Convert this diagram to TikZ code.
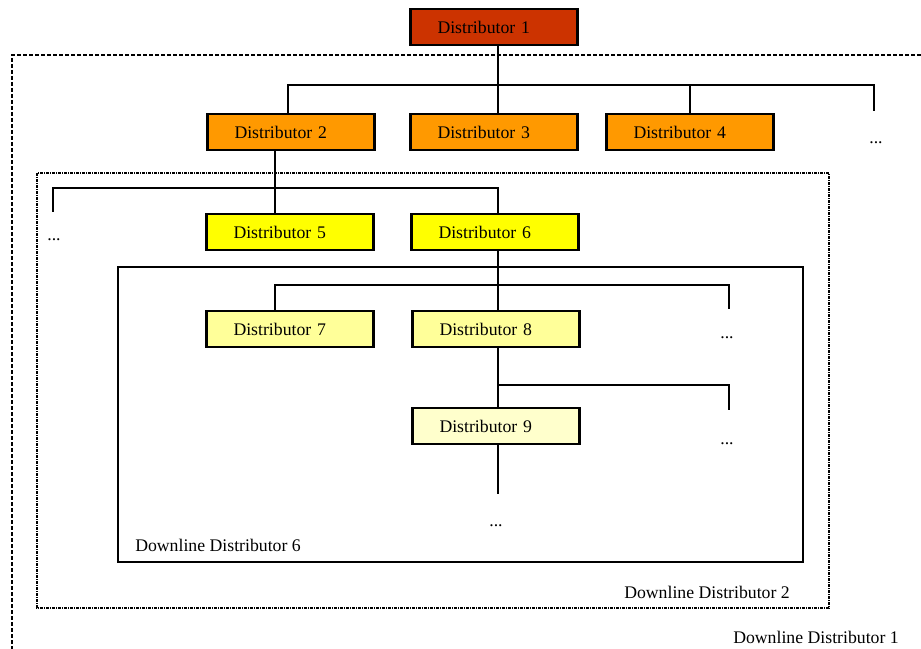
\documentclass[tikz,border=0pt]{standalone}
\usepackage{fontspec}
\setmainfont{Liberation Serif}
\usetikzlibrary{positioning}
\definecolor{distRed}{HTML}{CC3300}
\definecolor{distOrange}{HTML}{FF9900}
\definecolor{distYellow}{HTML}{FFFF00}
\definecolor{distPale}{HTML}{FFFF99}
\definecolor{distLight}{HTML}{FFFFCC}
\begin{document}
\begin{tikzpicture}[x=0.75pt, y=-0.75pt,
          dist/.style={rectangle, draw=black, line width=1.7pt, minimum height=27pt, text width=84.75pt, inner xsep=20.25pt, align=left, font=\fontsize{13.3pt}{16pt}\selectfont},
          link/.style={line width=1.8pt, draw=black},
          dots/.style={anchor=base, inner sep=0pt, font=\fontsize{13.3pt}{16pt}\selectfont},
          tag/.style={anchor=base west, inner sep=0pt, font=\fontsize{13.3pt}{16pt}\selectfont},
          outerframe/.style={line width=0.9pt, dash pattern=on 3pt off 1.5pt},
          midframe/.style={line width=1pt, dash pattern=on 2.25pt off 0.75pt on 0.75pt off 0.75pt},
          innerframe/.style={line width=1.1pt}
        ]
          \useasboundingbox (0,0) rectangle (921,649);
          \draw[outerframe] (921,55) -| (12,649);
          \draw[midframe] (37,173) rectangle (829,608);
          \draw[innerframe] (118,267) rectangle (803,562);
          \coordinate (colA) at (275,0);
          \coordinate (colB) at (498,0);
          \coordinate (bar2) at (0,85);
          \coordinate (bar3) at (0,188);
          \coordinate (bar4) at (0,285);
          \coordinate (bar5) at (0,385);
          \node[dist, fill=distRed] (d1) at (494,27) {Distributor 1};
          \node[dist, fill=distOrange] (d2) at (291,132) {Distributor 2};
          \node[dist, fill=distOrange] (d3) at (494,132) {Distributor 3};
          \node[dist, fill=distOrange] (d4) at (690,132) {Distributor 4};
          \node[dist, fill=distYellow] (d5) at (290,232) {Distributor 5};
          \node[dist, fill=distYellow] (d6) at (495,232) {Distributor 6};
          \node[dist, fill=distPale] (d7) at (290,329) {Distributor 7};
          \node[dist, fill=distPale] (d8) at (496,329) {Distributor 8};
          \node[dist, fill=distLight] (d9) at (496,426) {Distributor 9};
          \coordinate (more2) at (874,111);
          \coordinate (more3) at (53,212);
          \coordinate (more4) at (729,309);
          \coordinate (more5) at (729,410);
          \coordinate (more6) at (498,494);
          \coordinate (colC) at (288,0);
          \draw[link] (d1.south -| colB) -- (d3.north -| colB);
          \draw[link] (d2.north -| colC) |- (bar2 -| more2) -- (more2);
          \draw[link] (d4.north) -- (d4.north |- bar2);
          \draw[link] (d2.south -| colA) -- (d5.north -| colA);
          \draw[link] (more3) |- (bar3 -| colB) -- (d6.north -| colB);
          \draw[link] (d6.south -| colB) -- (d8.north -| colB);
          \draw[link] (d7.north -| colA) |- (more4 |- bar4) -- (more4);
          \draw[link] (d8.south -| colB) -- (d9.north -| colB);
          \draw[link] (bar5 -| colB) -| (more5);
          \draw[link] (d9.south -| colB) -- (more6);
          \node[dots] (dots2) at (876,144) {...};
          \node[dots] (dots3) at (54,240) {...};
          \node[dots] (dots4) at (727,338) {...};
          \node[dots] (dots5) at (727,444) {...};
          \node[dots] (dots6) at (496,526) {...};
          \node[tag] (dl6) at (135,551) {Downline Distributor 6};
          \node[tag] (dl2) at (624,598) {Downline Distributor 2};
          \node[tag] (dl1) at (733,643) {Downline Distributor 1};
        \end{tikzpicture}
\end{document}
